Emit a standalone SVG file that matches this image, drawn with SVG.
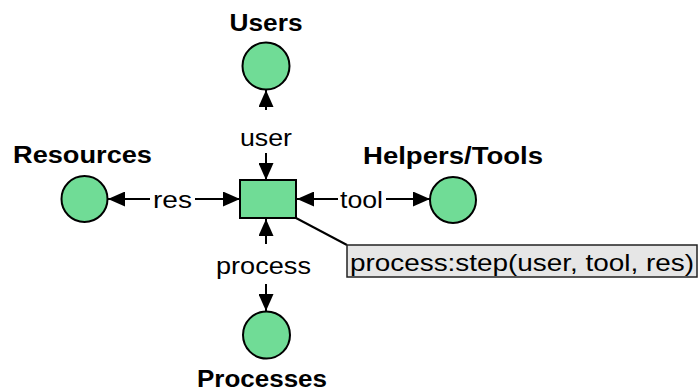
<svg xmlns="http://www.w3.org/2000/svg" width="700" height="391" viewBox="0 0 700 391">
<defs>
<style>
.place{fill:#70dc96;stroke:#000;stroke-width:2}
.trans{fill:#70dc96;stroke:#000;stroke-width:2}
.head{font-family:"Liberation Sans",Arial,sans-serif;font-weight:bold;font-size:23px;fill:#000}
.lbl{font-family:"Liberation Sans",Arial,sans-serif;font-size:24px;fill:#000}
.arc{stroke:#000;stroke-width:2;fill:none;marker-end:url(#ah)}
</style>
<marker id="ah" viewBox="0 0 17 15" refX="17" refY="7.5" markerWidth="17" markerHeight="15" markerUnits="userSpaceOnUse" orient="auto">
<path d="M0,0 L17,7.5 L0,15 Z" fill="#000"/>
</marker>
</defs>
<rect width="700" height="391" fill="#fff"/>
<g id="connectors">
<line class="arc" x1="266" y1="110" x2="266" y2="90"/>
<line class="arc" x1="266" y1="153" x2="266" y2="180"/>
<line class="arc" x1="150" y1="199" x2="108" y2="199"/>
<line class="arc" x1="195" y1="199" x2="240" y2="199"/>
<line class="arc" x1="338" y1="199" x2="297" y2="199"/>
<line class="arc" x1="386" y1="199" x2="430" y2="199"/>
<line class="arc" x1="266" y1="244" x2="266" y2="219"/>
<line class="arc" x1="266" y1="284" x2="266" y2="311"/>
<line x1="296" y1="218" x2="347" y2="245" stroke="#000" stroke-width="2"/>
</g>
<g id="arc-labels">
<text class="lbl" x="266" y="146" text-anchor="middle" textLength="52" lengthAdjust="spacingAndGlyphs">user</text>
<text class="lbl" x="172.5" y="208" text-anchor="middle" textLength="39" lengthAdjust="spacingAndGlyphs">res</text>
<text class="lbl" x="361.5" y="208" text-anchor="middle" textLength="43" lengthAdjust="spacingAndGlyphs">tool</text>
<text class="lbl" x="263.5" y="274" text-anchor="middle" textLength="95" lengthAdjust="spacingAndGlyphs">process</text>
</g>
<g id="users">
<circle class="place" cx="266" cy="66" r="23.5"/>
<text class="head" x="266" y="31" text-anchor="middle" textLength="73" lengthAdjust="spacingAndGlyphs">Users</text>
</g>
<g id="resources">
<circle class="place" cx="84.5" cy="199" r="23"/>
<text class="head" x="82.5" y="163" text-anchor="middle" textLength="139" lengthAdjust="spacingAndGlyphs">Resources</text>
</g>
<g id="helpers-tools">
<circle class="place" cx="453" cy="200" r="23"/>
<text class="head" x="453" y="164" text-anchor="middle" textLength="180" lengthAdjust="spacingAndGlyphs">Helpers/Tools</text>
</g>
<g id="processes">
<circle class="place" cx="266.5" cy="335" r="23.5"/>
<text class="head" x="262" y="387" text-anchor="middle" textLength="130" lengthAdjust="spacingAndGlyphs">Processes</text>
</g>
<g id="step">
<rect class="trans" x="240" y="180" width="56" height="38"/>
</g>
<g id="callout">
<rect x="347" y="245" width="350" height="32" fill="#e6e6e6" stroke="#222" stroke-width="1.5"/>
<text class="lbl" x="350" y="271" textLength="344" lengthAdjust="spacingAndGlyphs">process:step(user, tool, res)</text>
</g>
</svg>
